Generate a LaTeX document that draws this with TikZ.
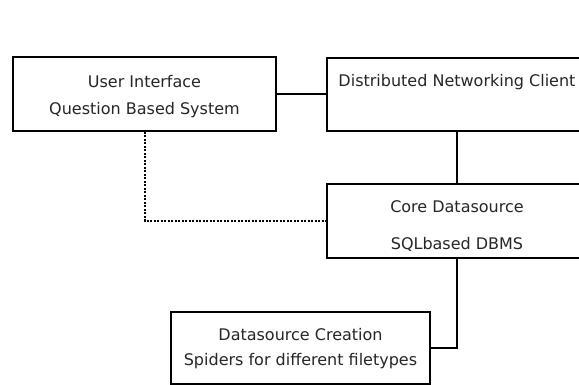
\documentclass[tikz,border=0pt]{standalone}
\usepackage{fontspec}
\setmainfont{DejaVu Sans}
\begin{document}
\begin{tikzpicture}[x=1pt,y=-1pt,
  box/.style={draw,line width=2pt,rectangle,inner sep=0pt},
  txt/.style={inner sep=0pt,anchor=base,font=\fontsize{16}{19}\selectfont,text=black!85},
  link/.style={line width=2pt},
  dotlink/.style={line width=2pt,dash pattern=on 2pt off 1.5pt}]
\useasboundingbox (0,0) rectangle (579,385);
\fill[white] (0,0) rectangle (579,385);
\clip (0,0) rectangle (579,385);
\node[box,minimum width=263pt,minimum height=74pt] (ui) at (144.5,94) {};
\node[txt] (ui1) at (144.5,88) {User Interface};
\node[txt] (ui2) at (144.5,115) {Question Based System};
\node[box,minimum width=260pt,minimum height=73pt] (dnc) at (457,94.5) {};
\node[txt] (dnct) at (457,87) {Distributed Networking Client};
\node[box,minimum width=260pt,minimum height=74pt] (core) at (457,221) {};
\node[txt] (core1) at (457,213) {Core Datasource};
\node[txt] (core2) at (457,250) {SQLbased DBMS};
\node[box,minimum width=259pt,minimum height=72pt] (ds) at (300.5,348) {};
\node[txt] (ds1) at (300.5,340) {Datasource Creation};
\node[txt] (ds2) at (300.5,365) {Spiders for different filetypes};
\draw[link] (ui.east) -- (dnc.west |- ui.east);
\draw[link] (dnc.south) -- (core.north);
\draw[dotlink] (ui.south) |- (core.west);
\draw[link] (core.south) |- (ds.east);
\end{tikzpicture}
\end{document}
